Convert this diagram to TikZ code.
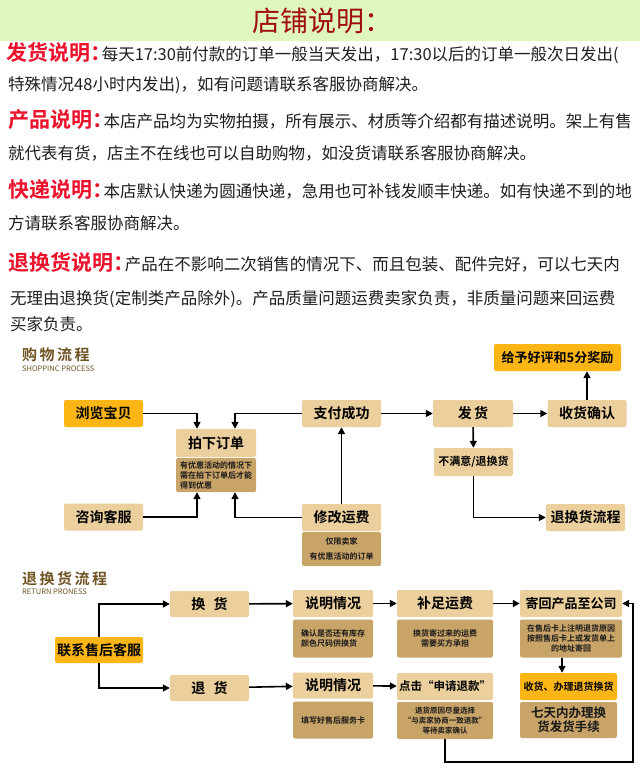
\documentclass[tikz,border=0pt]{standalone}
\usepackage{fontspec}
\setmainfont{Noto Sans CJK SC}[BoldFont={Noto Sans CJK SC Bold}]
\usetikzlibrary{arrows.meta}
\definecolor{bandgreen}{RGB}{223,246,190}
\definecolor{titlered}{RGB}{160,12,18}
\definecolor{tagred}{RGB}{236,18,44}
\definecolor{boxtan}{RGB}{235,207,156}
\definecolor{notetan}{RGB}{201,164,104}
\definecolor{hotyellow}{RGB}{251,181,21}
\definecolor{goldbrown}{RGB}{112,84,36}
\newcommand{\setfs}[2]{\fontsize{#1}{#2}\selectfont}
\newcommand{\tagtext}[1]{{\color{tagred}\bfseries\setfs{21}{21}#1：\kern-0.45em}}
\tikzset{
  box/.style={fill=boxtan, rounded corners=2pt, inner sep=0pt, minimum width=79pt, minimum height=27pt, font=\bfseries\setfs{14}{14}},
  hotbox/.style={box, fill=hotyellow},
  note/.style={fill=notetan, rounded corners=2pt, inner sep=0pt, minimum width=79pt, align=center, text=black!90, font=\bfseries\setfs{8}{10}},
  para/.style={anchor=base west, inner sep=0pt, text=black!88, font=\setfs{16.5}{16.5}},
  flowtitle/.style={anchor=west, inner sep=0pt, text=goldbrown, font=\bfseries\setfs{15}{15}},
  flowsub/.style={anchor=west, inner sep=0pt, text=goldbrown, font=\setfs{7.5}{7.5}},
  flow/.style={draw, line width=1.6pt, -{Triangle[length=7pt,width=7pt]}},
}
\begin{document}
\begin{tikzpicture}[x=1pt,y=-1pt]
\useasboundingbox (0,0) rectangle (640,768);
\fill[white] (0,0) rectangle (640,768);
\fill[bandgreen] (0,0) rectangle (640,41);
\node[text=titlered, font=\setfs{28}{28}] (title) at (322,21) {店铺说明：};

\node[para] (shipA) at (6,60) {\tagtext{发货说明}每天17:30前付款的订单一般当天发出，17:30以后的订单一般次日发出(};
\node[para] (shipB) at (8,90) {特殊情况48小时内发出)，如有问题请联系客服协商解决。};
\node[para] (goodsA) at (8,127) {\tagtext{产品说明}本店产品均为实物拍摄，所有展示、材质等介绍都有描述说明。架上有售};
\node[para] (goodsB) at (8,159) {就代表有货，店主不在线也可以自助购物，如没货请联系客服协商解决。};
\node[para] (postA) at (8,197) {\tagtext{快递说明}本店默认快递为圆通快递，急用也可补钱发顺丰快递。如有快递不到的地};
\node[para] (postB) at (8,229) {方请联系客服协商解决。};
\node[para] (backA) at (8,270) {\tagtext{退换货说明}产品在不影响二次销售的情况下、而且包装、配件完好，可以七天内};
\node[para] (backB) at (10,304) {无理由退换货(定制类产品除外)。产品质量问题运费卖家负责，非质量问题来回运费};
\node[para] (backC) at (10,330) {买家负责。};

\node[flowtitle] (shoptitle) at (22,355) {购\,物\,流\,程};
\node[flowsub] (shopsub) at (22,369) {SHOPPINC PROCESS};
\node[hotbox] (browse) at (103.5,413.5) {浏览宝贝};
\node[box, minimum width=80pt, minimum height=28pt] (order) at (216,443) {拍下订单};
\node[note, minimum width=80pt, minimum height=34pt, align=left] (ordernote) at (216,475) {有优惠活动的情况下\\需在拍下订单后才能\\得到优惠};
\node[box] (consult) at (103.5,517) {咨询客服};
\node[box] (paid) at (341.5,413.5) {支付成功};
\node[box, minimum width=80pt] (ship) at (473,413.5) {发\,货};
\node[box] (confirm) at (587,413.5) {收货确认};
\node[hotbox, minimum width=127pt, font=\bfseries\setfs{13}{13}] (praise) at (557.5,357.5) {给予好评和5分奖励};
\node[box, minimum height=28pt, font=\bfseries\setfs{11}{11}] (unhappy) at (473.5,462) {不满意/退换货};
\node[box] (returnflow) at (585.5,517.5) {退换货流程};
\node[box] (fee) at (341.5,517.5) {修改运费};
\node[note, minimum height=34pt] (feenote) at (341.5,549) {仅限卖家\\[5pt]有优惠活动的订单};
\draw[flow] (browse.east) -| ([xshift=-19pt]order.north);
\draw[flow] (paid.west) -| ([xshift=19pt]order.north);
\draw[flow] (consult.east) -| ([xshift=-19pt]ordernote.south);
\draw[flow] (fee.west) -| ([xshift=19pt]ordernote.south);
\draw[flow] (fee) -- (paid);
\draw[flow] (paid) -- (ship);
\draw[flow] (ship) -- (confirm);
\draw[flow] (confirm.north) -- (confirm.north |- praise.south);
\draw[flow] (ship) -- (unhappy);
\draw[flow] (unhappy.south) |- (returnflow.west);

\node[flowtitle] (rettitle) at (22,579) {退\,换\,货\,流\,程};
\node[flowsub] (retsub) at (22,592) {RETURN PRONESS};
\node[hotbox, minimum width=88pt, minimum height=26pt] (aftersale) at (99,650) {联系售后客服};
\node[box, minimum height=26pt] (exchange) at (209.5,604) {换\hspace{0.6em}货};
\node[box, minimum height=26pt] (refund) at (209.5,688) {退\hspace{0.6em}货};
\node[box, minimum width=80pt] (explainA) at (333,603.5) {说明情况};
\node[note, minimum width=80pt, minimum height=38pt, align=left] (explainAnote) at (333,638.5) {确认是否还有库存\\颜色尺码供换货};
\node[box, minimum width=96pt] (fillfee) at (445,603.5) {补足运费};
\node[note, minimum width=96pt, minimum height=38pt] (fillfeenote) at (445,638.5) {换货寄过来的运费\\需要买方承担};
\node[box, minimum width=102pt, font=\bfseries\setfs{13}{13}] (sendback) at (571,603.5) {寄回产品至公司};
\node[note, minimum width=102pt, minimum height=38pt] (sendbacknote) at (571,638.5) {在售后卡上注明退货原因\\按照售后卡上或发货单上\\的地址寄回};
\node[box, minimum width=80pt, minimum height=26pt] (explainB) at (333,685.5) {说明情况};
\node[note, minimum width=80pt, minimum height=37pt] (explainBnote) at (333,720) {填写好售后服务卡};
\node[box, minimum width=96pt, font=\bfseries\setfs{11.5}{11.5}] (apply) at (445,686.5) {点击“申请退款”};
\node[note, minimum width=96pt, minimum height=37pt, font=\bfseries\setfs{7.5}{10}] (applynote) at (445,720.5) {退货原因尽量选择\\“与卖家协商一致退款”\\等待卖家确认};
\node[hotbox, minimum width=97pt, font=\bfseries\setfs{10}{10}] (received) at (568.5,686.5) {收货、办理退货换货};
\node[note, minimum width=97pt, minimum height=36pt, font=\bfseries\setfs{12.5}{14}] (sevendays) at (568.5,720) {七天内办理换\\货发货手续};
\coordinate (loop) at (633,762);
\draw[flow] (aftersale.north) |- (exchange.west);
\draw[flow] (aftersale.south) |- (refund.west);
\draw[flow] (exchange) -- (explainA);
\draw[flow] (refund) -- (explainB);
\draw[flow] (explainA) -- (fillfee);
\draw[flow] (fillfee) -- (sendback);
\draw[flow] (explainB) -- (apply);
\draw[flow] ([xshift=-9pt]sendbacknote.south) -- ([xshift=-6.5pt]received.north);
\draw[flow] (applynote.south) |- (loop) |- (sendback.east);
\end{tikzpicture}
\end{document}
